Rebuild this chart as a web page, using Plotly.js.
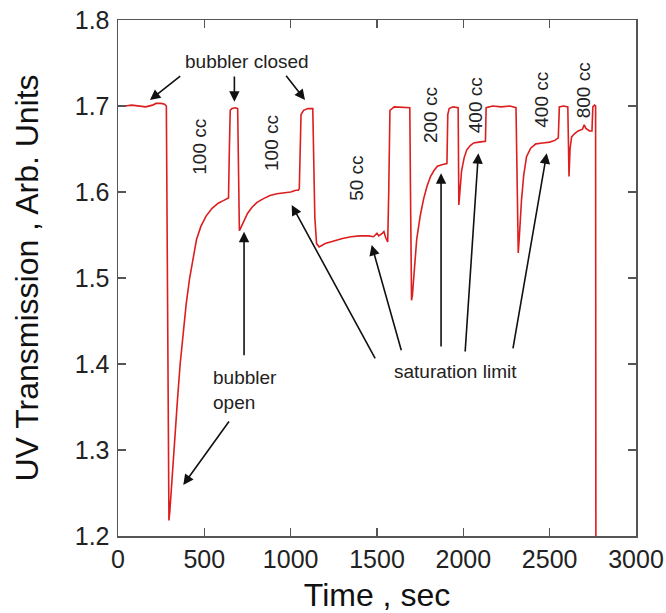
<!DOCTYPE html>
<html><head><meta charset="utf-8">
<script src="https://cdn.plot.ly/plotly-3.0.1.min.js"></script>
<style>html,body{margin:0;padding:0;background:#fff}#plot{width:666px;height:613px}</style>
</head><body><div id="plot"></div>
<script>
// Time (sec)
const timeSec = [
 0,40,80,120,160,200,220,250,270,280,
 283,287,291,295,
 300,310,320,330,345,360,378,395,415,435,455,480,510,545,580,610,640,
 645,650,660,680,693,
 697,703,
 715,730,750,775,805,840,880,920,960,1000,1030,1045,1050,
 1055,1060,1075,1100,1128,
 1133,1140,1150,1165,
 1200,1250,1300,1350,1400,1450,1480,1500,1510,1530,1540,1550,1562,
 1568,1575,1600,1650,1690,
 1694,1700,
 1705,1715,1730,1750,1770,1790,1810,1830,1850,1880,1905,
 1910,1918,1940,1970,
 1974,
 1980,1990,2005,2020,2040,2060,2090,2128,
 2132,2170,2220,2270,2305,
 2312,2318,
 2325,2337,2350,2366,2390,2420,2460,2500,2530,2550,
 2556,2580,2605,
 2612,
 2618,2627,2645,2665,2690,2700,2710,2730,2745,
 2750,2760,2766,
 2768
];
// UV transmission (arb. units)
const uvTrans = [
 1.700,1.700,1.701,1.700,1.699,1.701,1.703,1.703,1.702,1.700,
 1.600,1.450,1.300,1.218,
 1.228,1.260,1.290,1.320,1.360,1.400,1.440,1.470,1.500,1.525,1.545,1.560,1.572,1.581,1.587,1.590,1.593,
 1.650,1.695,1.697,1.698,1.697,
 1.620,1.555,
 1.560,1.566,1.575,1.582,1.588,1.592,1.596,1.598,1.599,1.600,1.602,1.602,1.604,
 1.660,1.690,1.695,1.697,1.697,
 1.650,1.570,1.540,1.536,
 1.540,1.543,1.546,1.548,1.549,1.549,1.548,1.552,1.549,1.552,1.554,1.547,1.542,
 1.600,1.695,1.699,1.698,1.698,
 1.600,1.474,
 1.480,1.510,1.545,1.572,1.592,1.607,1.618,1.625,1.630,1.632,1.633,
 1.690,1.697,1.699,1.698,
 1.585,
 1.600,1.625,1.640,1.649,1.654,1.657,1.658,1.659,
 1.698,1.700,1.699,1.700,1.698,
 1.600,1.529,
 1.550,1.591,1.620,1.641,1.651,1.656,1.657,1.658,1.660,1.663,
 1.699,1.700,1.699,
 1.618,
 1.650,1.664,1.668,1.671,1.673,1.678,1.674,1.671,1.671,
 1.699,1.701,1.700,
 1.100
];
const xTicks = [0,500,1000,1500,2000,2500,3000];
const yTicks = [1.2,1.3,1.4,1.5,1.6,1.7,1.8];

// labels: [text, x, y]
const flowLabels = [
 ['100 cc',475,1.6527],['100 cc',890,1.6566],['50 cc',1382,1.616],
 ['200 cc',1807,1.6895],['400 cc',2068,1.701],['400 cc',2454,1.707],['800 cc',2695,1.7186]
];
// arrows: [headX, headY, tailX, tailY]
const arrows = [
 [185,1.707,369,1.736],[674,1.705,674,1.736],[1083,1.707,967,1.737],
 [378,1.2593,649,1.3349],[730,1.5538,730,1.4085],
 [1006,1.5849,1494,1.4047],[1469,1.5384,1643,1.4143],[1871,1.6217,1871,1.4186],
 [2087,1.645,2010,1.4128],[2483,1.645,2286,1.4163]
];
const textLabels = [
 ['bubbler closed',745,1.7515],['bubbler<br>open',735,1.3698],['saturation limit',1957,1.391]
];

const FONT = 'Liberation Sans, Arial, sans-serif';
const annotations = [];
flowLabels.forEach(l => annotations.push({text:l[0],x:l[1],y:l[2],xref:'x',yref:'y',showarrow:false,textangle:-90,font:{family:FONT,size:19,color:'#222'}}));
arrows.forEach(a => annotations.push({text:'',x:a[0],y:a[1],ax:a[2],ay:a[3],axref:'x',ayref:'y',xref:'x',yref:'y',showarrow:true,arrowhead:2,arrowsize:1.3,arrowwidth:1.6,arrowcolor:'#111',standoff:0,startstandoff:0}));
textLabels.forEach((l,i) => annotations.push({text:l[0],x:l[1],y:l[2],xref:'x',yref:'y',showarrow:false,align:i===1?'left':'center',font:{family:FONT,size:19,color:'#222'}}));

const trace = {x:timeSec,y:uvTrans,type:'scatter',mode:'lines',line:{color:'rgb(220,30,30)',width:1.6},hoverinfo:'none'};
const axisCommon = {showline:true,mirror:'ticks',linecolor:'#555',linewidth:1.5,ticks:'inside',ticklen:8,tickwidth:1.5,tickcolor:'#555',showgrid:false,zeroline:false,tickfont:{family:FONT,size:25,color:'#222'}};
const layout = {
 width:666,height:613,margin:{l:118,r:30,t:20,b:77},
 paper_bgcolor:'#fff',plot_bgcolor:'#fff',showlegend:false,
 xaxis:Object.assign({},axisCommon,{range:[0,3000],tickvals:xTicks,ticktext:xTicks.map(String),title:{text:'Time , sec',font:{family:FONT,size:32,color:'#111'},standoff:12}}),
 yaxis:Object.assign({},axisCommon,{range:[1.2,1.8],tickvals:yTicks,ticktext:yTicks.map(v=>v.toFixed(1)),ticklabelstandoff:2,title:{text:'UV Transmission , Arb. Units',font:{family:FONT,size:32,color:'#111'},standoff:26}}),
 annotations:annotations
};
Plotly.newPlot('plot',[trace],layout,{displayModeBar:false,staticPlot:true});
</script></body></html>
